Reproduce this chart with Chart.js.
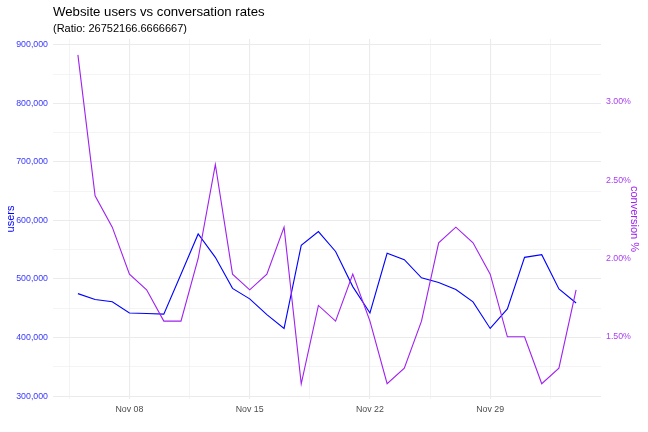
<!DOCTYPE html>
<html>
<head>
<meta charset="utf-8">
<script src="https://cdn.jsdelivr.net/npm/chart.js@4/dist/chart.umd.min.js"></script>
<style>
  html, body { margin: 0; padding: 0; background: #fff; }
  #wrap { width: 648px; height: 432px; }
</style>
</head>
<body>
<div id="wrap"><canvas id="chart" width="648" height="432"></canvas></div>
<script>
// Website users vs conversion, dual axis (conversion scaled by ratio)
const titleText = 'Website users vs conversation rates';
const subtitleText = '(Ratio: 26752166.6666667)';
const ratio = 26752166.6666667;

// day of November (Dec 1 = 31 ...)
const days = [5, 6, 7, 8, 9, 10, 11, 12, 13, 14, 15, 16, 17, 18, 19, 20,
              21, 22, 23, 24, 25, 26, 27, 28, 29, 30, 31, 32, 33, 34];
const users = [475000, 465000, 461000, 442000, 441000, 440000, 508000, 577000,
               537000, 484000, 466000, 439000, 415500, 557500, 581000, 547000,
               487000, 442000, 544000, 533000, 502000, 494000, 482000, 461000,
               415500, 449000, 537000, 541500, 483000, 459000];
const conversion = [3.3, 2.4, 2.2, 1.9, 1.8, 1.6, 1.6, 2.0, 2.6, 1.9, 1.8, 1.9,
                    2.2, 1.2, 1.7, 1.6, 1.9, 1.6, 1.2, 1.3, 1.6, 2.1, 2.2, 2.1,
                    1.9, 1.5, 1.5, 1.2, 1.3, 1.8];

const xMajorTicks = [8, 15, 22, 29];
const xTickLabels = ['Nov 08', 'Nov 15', 'Nov 22', 'Nov 29'];
const xMinorTicks = [4.5, 11.5, 18.5, 25.5, 32.5];
const userTicks = [300000, 400000, 500000, 600000, 700000, 800000, 900000];
const userMinorTicks = [350000, 450000, 550000, 650000, 750000, 850000];
const convTicks = [1.5, 2.0, 2.5, 3.0];

const usersMin = 295000, usersMax = 910000;

const t = {
    blue: '#0000FF',
    purple: '#A020F0',
    blueText: '#3838FF',
    purpleText: '#AA40F0',
    grid: '#EBEBEB',
    axisText: '#4D4D4D',
    font: "'Liberation Sans', Arial, Helvetica, sans-serif"
};

const gridWidth = (ctx, majors) => majors.indexOf(ctx.tick.value) >= 0 ? 1.1 : 0.55;

const titlePlugin = {
    id: 'ggTitle',
    afterDraw(chart) {
        const c = chart.ctx, left = chart.chartArea.left;
        c.save();
        c.fillStyle = '#000';
        c.textAlign = 'left';
        c.textBaseline = 'alphabetic';
        c.font = '13.2px ' + t.font;
        c.fillText(titleText, left, 15.5);
        c.font = '11px ' + t.font;
        c.fillText(subtitleText, left, 31.5);
        c.restore();
    }
};

new Chart(document.getElementById('chart'), {
    type: 'line',
    data: {
        datasets: [
            {
                label: 'conversion %',
                data: days.map((d, i) => ({ x: d, y: conversion[i] })),
                yAxisID: 'y2',
                borderColor: t.purple,
                borderWidth: 1.1,
                pointRadius: 0,
                tension: 0,
                order: 0
            },
            {
                label: 'users',
                data: days.map((d, i) => ({ x: d, y: users[i] })),
                yAxisID: 'y',
                borderColor: t.blue,
                borderWidth: 1.1,
                pointRadius: 0,
                tension: 0,
                order: 1
            }
        ]
    },
    options: {
        responsive: false,
        animation: false,
        devicePixelRatio: 1,
        layout: { padding: { top: 39, left: 0, right: 0, bottom: 0 } },
        plugins: { legend: { display: false }, tooltip: { enabled: false } },
        scales: {
            x: {
                type: 'linear',
                min: 3.55,
                max: 35.45,
                afterBuildTicks: s => {
                    s.ticks = xMinorTicks.concat(xMajorTicks).sort((a, b) => a - b).map(v => ({ value: v }));
                },
                afterFit: s => { s.height = 33; },
                border: { display: false },
                grid: {
                    drawTicks: false,
                    color: t.grid,
                    lineWidth: ctx => gridWidth(ctx, xMajorTicks)
                },
                ticks: {
                    padding: 5,
                    autoSkip: false,
                    maxRotation: 0,
                    color: t.axisText,
                    font: { family: t.font, size: 8.8 },
                    callback: v => {
                        const i = xMajorTicks.indexOf(v);
                        return i >= 0 ? xTickLabels[i] : '';
                    }
                }
            },
            y: {
                position: 'left',
                min: usersMin,
                max: usersMax,
                afterBuildTicks: s => {
                    s.ticks = userMinorTicks.concat(userTicks).sort((a, b) => a - b).map(v => ({ value: v }));
                },
                afterFit: s => { s.width = 53; },
                border: { display: false },
                grid: {
                    drawTicks: false,
                    color: t.grid,
                    lineWidth: ctx => gridWidth(ctx, userTicks)
                },
                title: {
                    display: true,
                    text: 'users',
                    color: t.blue,
                    font: { family: t.font, size: 11 },
                    padding: { top: 4, bottom: 0 }
                },
                ticks: {
                    padding: 5,
                    color: t.blueText,
                    font: { family: t.font, size: 8.8 },
                    callback: v => userTicks.indexOf(v) >= 0 ? v.toLocaleString('en-US') : ''
                }
            },
            y2: {
                position: 'right',
                min: usersMin / ratio * 100,
                max: usersMax / ratio * 100,
                afterBuildTicks: s => {
                    s.ticks = convTicks.map(v => ({ value: v }));
                },
                afterFit: s => { s.width = 47; },
                border: { display: false },
                grid: { display: false, drawTicks: false },
                title: {
                    display: true,
                    text: 'conversion %',
                    color: t.purple,
                    font: { family: t.font, size: 11 },
                    padding: { top: 7, bottom: 0 }
                },
                ticks: {
                    padding: 5,
                    color: t.purpleText,
                    font: { family: t.font, size: 8.8 },
                    callback: v => v.toFixed(2) + '%'
                }
            }
        }
    },
    plugins: [titlePlugin]
});
</script>
</body>
</html>
